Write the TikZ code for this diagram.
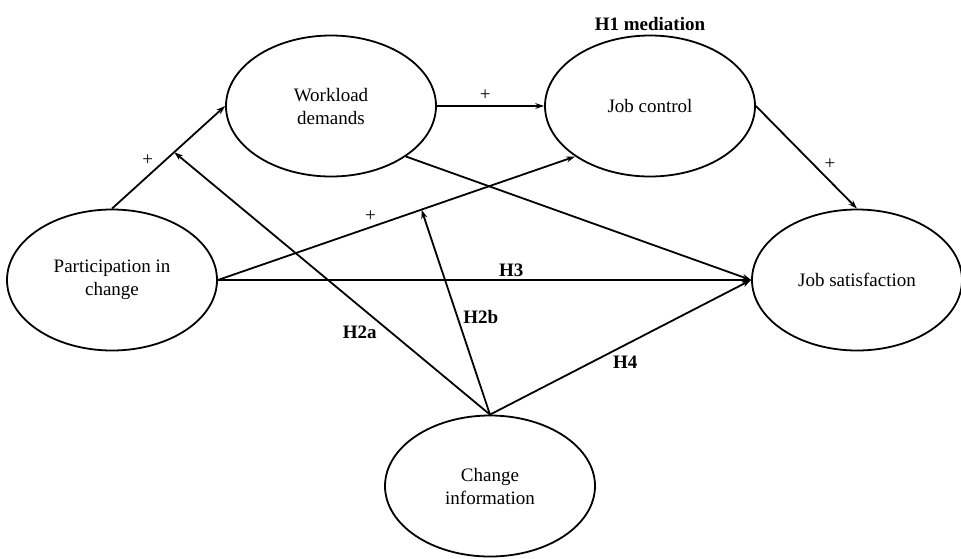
\documentclass[tikz,border=0pt]{standalone}
\usepackage{fontspec}
\setmainfont{Liberation Serif}
\usetikzlibrary{shapes.geometric,arrows.meta}
\tikzset{lv/.style = {ellipse, minimum width=210pt, minimum height=141pt, inner sep=0pt, draw, align=center},
         hy/.style = {font=\fontsize{19}{23}\selectfont\bfseries}}

\begin{document}
\begin{tikzpicture}[x=1pt, y=-1pt, >={Stealth[length=9pt,width=6pt]}, line width=1.8pt, inner sep=2pt,
                    font=\fontsize{19}{23}\selectfont]
    \useasboundingbox (0,0) rectangle (961,558);
    \node[lv] (p) at (112,280) {Participation in\\change};
    \node[lv] (w) at (331,106) {Workload\\demands};
    \node[lv, label={[hy, label distance=1pt]above:H1 mediation}] (c) at (650,106) {Job control};
    \node[lv] (s) at (857,280) {Job satisfaction};
    \node[lv] (i) at (490,486) {Change\\information};
    \path (p.north) -- (w.west) coordinate[pos=.55] (pw);
    \path (p.east) -- (c.south west) coordinate[pos=.57] (pc);
    \draw[->] (p.north) to[edge label =+, pos=.39] (w.west);
    \draw[->] (w.east) to[edge label =+, pos=.45, inner sep=5pt] (c.west);
    \draw[->] (c.east) to[edge label =+, pos=.65] (s.north);
    \draw[->] (p.east) to[edge label =+, pos=.45] (c.south west);
    \draw[->] (p.east) to[edge label =\textbf{H3}, pos=.55] (s.west);
    \draw[->] (w.south east) to (s.west);
    \draw[->] (i.north) to[edge label'=\textbf{H4}, pos=.46] (s.west);
    \draw[->] (i.north) to[edge label =\textbf{H2a}, pos=.35] (pw);
    \draw[->] (i.north) to[edge label'=\textbf{H2b}, pos=.43] (pc);
\end{tikzpicture}
\end{document}
